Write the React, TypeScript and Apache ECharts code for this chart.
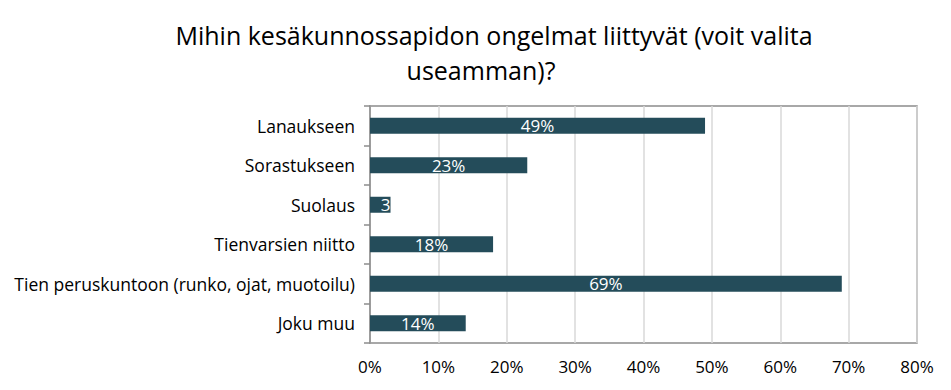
import React, { useEffect, useRef } from "react";
import * as echarts from "echarts";

const categories = [
  "Lanaukseen",
  "Sorastukseen",
  "Suolaus",
  "Tienvarsien niitto",
  "Tien peruskuntoon (runko, ojat, muotoilu)",
  "Joku muu",
];
const values = [49, 23, 3, 18, 69, 14];
const xTicks = [0, 10, 20, 30, 40, 50, 60, 70, 80];
const titleLines = ["Mihin kesäkunnossapidon ongelmat liittyvät (voit valita", "useamman)?"];

const FONT = "'Open Sans', sans-serif";

export default function App() {
  const ref = useRef<HTMLDivElement>(null);
  useEffect(() => {
    if (!ref.current) return;
    const chart = echarts.init(ref.current, null, { renderer: "svg" });
    chart.setOption({
      animation: false,
      backgroundColor: "#ffffff",
      title: [
        {
          text: titleLines[0],
          left: 489,
          top: 17,
          textAlign: "center",
          textStyle: { fontFamily: FONT, fontSize: 25, fontWeight: "normal", color: "#000000" },
        },
        {
          text: titleLines[1],
          left: 476,
          top: 52,
          textAlign: "center",
          textStyle: { fontFamily: FONT, fontSize: 25, fontWeight: "normal", color: "#000000" },
        },
      ],
      grid: {
        left: 370,
        right: 34,
        top: 106,
        bottom: 47,
        show: true,
        borderColor: "#8c8c8c",
        borderWidth: 1.5,
      },
      xAxis: {
        type: "value",
        min: xTicks[0],
        max: xTicks[xTicks.length - 1],
        interval: 10,
        axisLine: { show: false },
        axisTick: { show: false },
        axisLabel: {
          formatter: (v: number) => v + "%",
          fontFamily: FONT,
          fontSize: 17,
          color: "#000000",
          margin: 15,
        },
        splitLine: { show: true, lineStyle: { color: "#d9d9d9", width: 1.5 } },
      },
      yAxis: {
        type: "category",
        data: categories,
        inverse: true,
        axisLine: { show: true, lineStyle: { color: "#8c8c8c", width: 1.5 } },
        axisTick: { show: true, length: 6, lineStyle: { color: "#8c8c8c", width: 1.5 } },
        axisLabel: {
          fontFamily: FONT,
          fontSize: 17.5,
          color: "#000000",
          margin: 15,
        },
      },
      series: [
        {
          type: "bar",
          data: values.map((v) =>
            v < 5 ? { value: v, label: { position: "insideRight", distance: 0 } } : v
          ),
          barWidth: 16,
          itemStyle: { color: "#244c5a" },
          label: {
            show: true,
            position: "inside",
            color: "#ffffff",
            fontFamily: FONT,
            fontSize: 17,
            formatter: (p: any) => (p.value < 5 ? String(p.value) : p.value + "%"),
          },
        },
      ],
    });
    return () => chart.dispose();
  }, []);
  return (
    <div
      ref={ref}
      style={{ position: "absolute", left: 0, top: 0, width: 951, height: 390 }}
    />
  );
}
